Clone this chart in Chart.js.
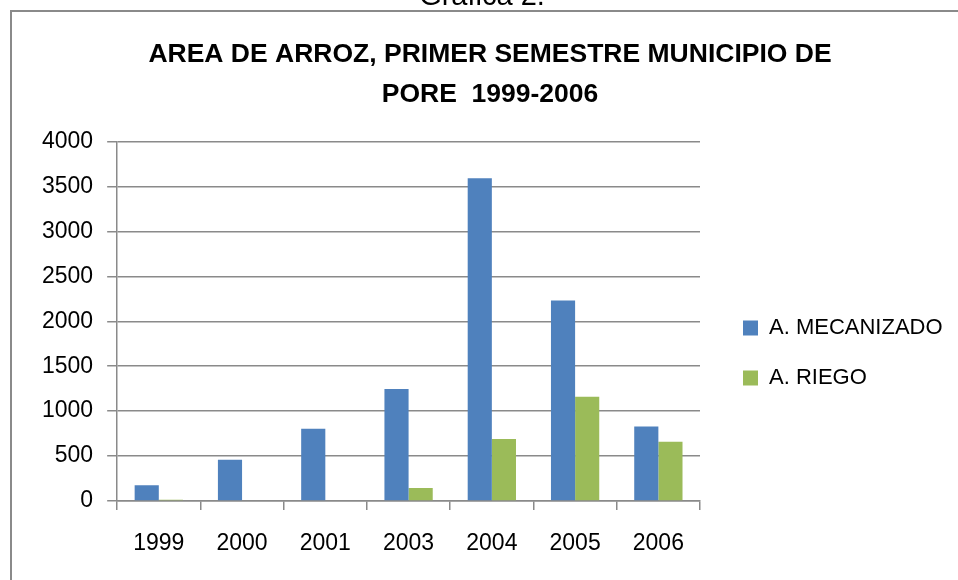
<!DOCTYPE html>
<html>
<head>
<meta charset="utf-8">
<script src="https://cdn.jsdelivr.net/npm/chart.js@4.4.0/dist/chart.umd.min.js"></script>
<style>
  html, body { margin: 0; padding: 0; background: #fff; }
  #wrap { width: 958px; height: 580px; position: relative; }
</style>
</head>
<body>
<div id="wrap"><canvas id="chart" width="958" height="580"></canvas></div>
<script>
// data
var years = ['1999', '2000', '2001', '2003', '2004', '2005', '2006'];
var mecanizado = [175, 460, 805, 1245, 3590, 2230, 830];
var riego = [15, 0, 0, 145, 690, 1160, 660];
var yTicks = [0, 500, 1000, 1500, 2000, 2500, 3000, 3500, 4000];

var gridGray = '#8a8a8a';

// frame and the cut-off caption above it
var framePlugin = {
    id: 'frame',
    afterLayout: function(chart) {
        // push the legend a bit right and down, like the original
        var lg = chart.legend;
        lg.left += 15; lg.right += 40;
        lg.top += 47; lg.bottom += 47;
        // title sits a little right of the canvas middle
        var tb = chart.titleBlock;
        tb.left += 14; tb.right += 14;
    },
    beforeDraw: function(chart) {
        var ctx = chart.ctx;
        ctx.save();
        ctx.strokeStyle = '#8a8a8a';
        ctx.lineWidth = 2;
        ctx.strokeRect(11, 11, 1000, 1000);
        ctx.fillStyle = '#000';
        ctx.font = '29px "Liberation Sans"';
        ctx.textAlign = 'center';
        ctx.textBaseline = 'alphabetic';
        ctx.fillText('Gráfica 2.', 482, 5);
        ctx.restore();
    }
};

new Chart(document.getElementById('chart'), {
    type: 'bar',
    data: {
        labels: years,
        datasets: [{
            label: 'A. MECANIZADO',
            data: mecanizado,
            backgroundColor: '#4f81bd',
            borderWidth: 0
        }, {
            label: 'A. RIEGO',
            data: riego,
            backgroundColor: '#9bbb59',
            borderWidth: 0
        }]
    },
    options: {
        responsive: false,
        animation: false,
        devicePixelRatio: 1,
        layout: { padding: { left: 28, right: 34, top: 35, bottom: 3 } },
        datasets: {
            bar: { categoryPercentage: 0.58, barPercentage: 1.0 }
        },
        scales: {
            x: {
                offset: true,
                grid: {
                    offset: true,
                    drawOnChartArea: false,
                    drawTicks: true,
                    tickLength: 9,
                    color: gridGray,
                    lineWidth: 1.5
                },
                border: { display: true, color: gridGray, width: 1.5 },
                ticks: {
                    color: '#000',
                    padding: 22,
                    font: { family: '"Liberation Sans"', size: 23, lineHeight: 1.0 }
                }
            },
            y: {
                min: 0,
                max: 4000,
                afterBuildTicks: function(scale) {
                    scale.ticks = yTicks.map(function(v) { return { value: v }; });
                },
                grid: {
                    color: gridGray,
                    lineWidth: 1.5,
                    tickLength: 10
                },
                border: { display: true, color: gridGray, width: 1.5 },
                ticks: {
                    color: '#000',
                    padding: 14,
                    font: { family: '"Liberation Sans"', size: 23 },
                    callback: function(v) { return String(v); }
                }
            }
        },
        plugins: {
            title: {
                display: true,
                text: ['AREA DE ARROZ, PRIMER SEMESTRE MUNICIPIO DE', 'PORE  1999-2006'],
                color: '#000',
                font: { family: '"Liberation Sans"', size: 26.5, weight: 'bold', lineHeight: 1.5 },
                padding: { top: 0, bottom: 27 }
            },
            legend: {
                position: 'right',
                labels: {
                    color: '#000',
                    boxWidth: 15,
                    boxHeight: 15,
                    padding: 28,
                    font: { family: '"Liberation Sans"', size: 22 }
                }
            },
            tooltip: { enabled: false }
        }
    },
    plugins: [framePlugin]
});
</script>
</body>
</html>
